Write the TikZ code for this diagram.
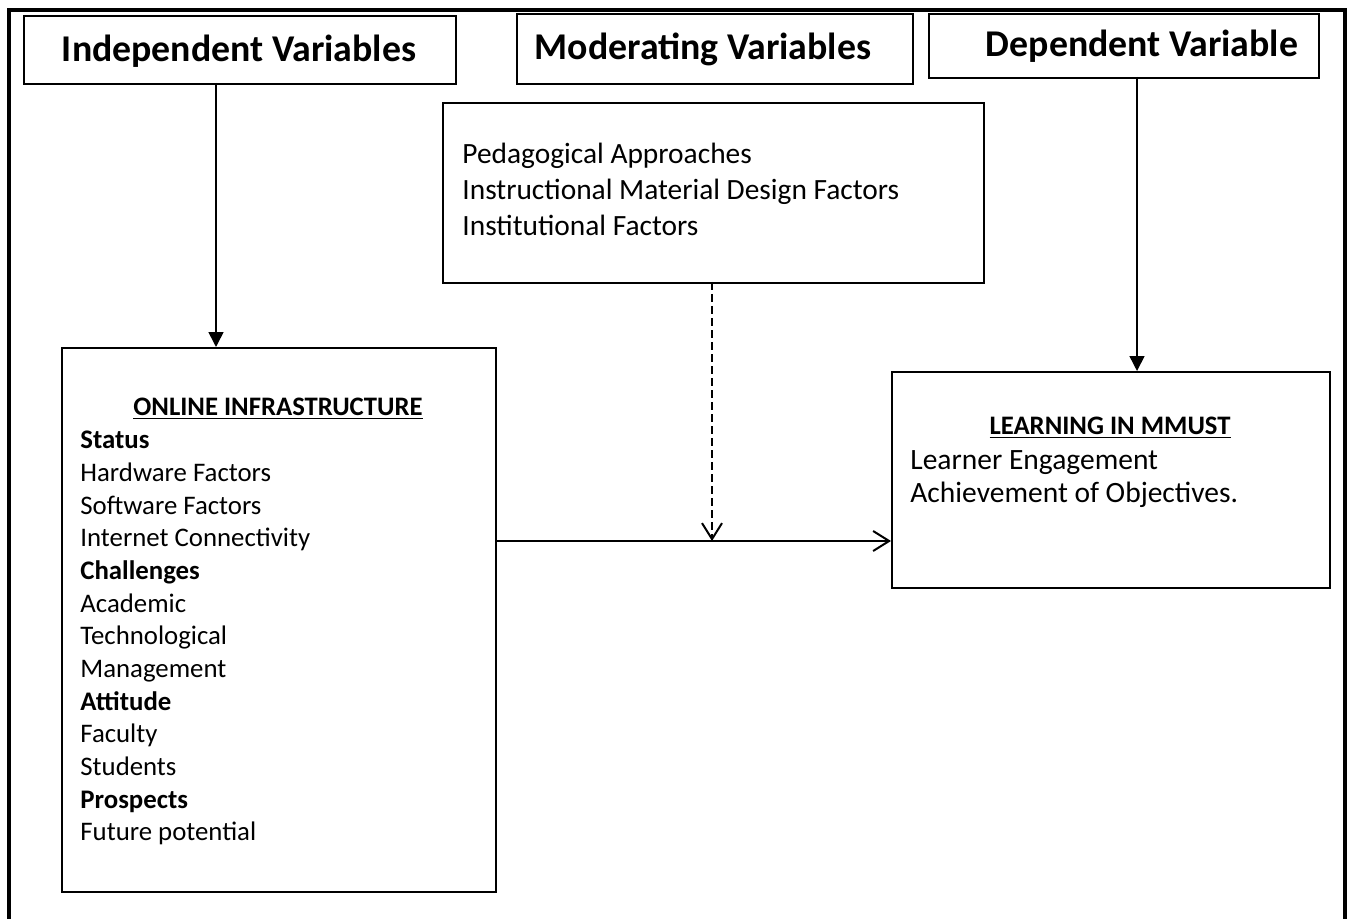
\documentclass[tikz,border=0pt]{standalone}
\usepackage{fontspec}
\setmainfont{Carlito}
\usetikzlibrary{arrows.meta}
\tikzset{
  box/.style={draw, line width=1pt},
  hdr/.style={font=\fontsize{18.9}{22}\selectfont\bfseries, anchor=base},
  body/.style={font=\fontsize{13.4}{16}\selectfont, anchor=base west, inner sep=0pt},
  bodyb/.style={body, font=\fontsize{13.4}{16}\selectfont\bfseries},
  modtxt/.style={font=\fontsize{14.7}{17}\selectfont, anchor=base west, inner sep=0pt},
  rtxt/.style={font=\fontsize{14.75}{17}\selectfont, anchor=base west, inner sep=0pt},
  sub/.style={font=\fontsize{13.35}{16}\selectfont\bfseries, anchor=base, inner sep=0pt},
  tri/.style={-{Triangle[length=7.5pt,width=7.5pt]}, line width=0.8pt},
  barb/.style={-{Straight Barb[length=8pt,width=10pt]}, line width=1pt},
}
\begin{document}
\begin{tikzpicture}[x=0.5pt,y=-0.5pt]
\useasboundingbox (0,0) rectangle (1352,919);
% outer frame
\draw[line width=1.6pt] (9,925) -- (9,10) -- (1345,10) -- (1345,925);
% header boxes
\node[box, minimum width=216pt, minimum height=34pt, anchor=north west, inner sep=0pt] (hind) at (23,15) {};
\node[box, minimum width=198pt, minimum height=35pt, anchor=north west, inner sep=0pt] (hmod) at (516,13) {};
\node[box, minimum width=195pt, minimum height=32pt, anchor=north west, inner sep=0pt] (hdep) at (928,13) {};
\node[hdr] (tind) at (239,62) {Independent Variables};
\node[hdr] (tmod) at (703,60) {Moderating Variables};
\node[hdr] (tdep) at (1142,57) {Dependent Variable};
% moderator box
\node[box, minimum width=270.5pt, minimum height=90pt, anchor=north west, inner sep=0pt] (mod) at (442,102) {};
\node[modtxt] (m1) at (462,164) {Pedagogical Approaches};
\node[modtxt] (m2) at (462,200) {Instructional Material Design Factors};
\node[modtxt] (m3) at (462,236) {Institutional Factors};
% left box
\node[box, minimum width=217pt, minimum height=272pt, anchor=north west, inner sep=0pt] (inf) at (61,347) {};
\node[sub] (infT) at (278,415) {\underline{ONLINE INFRASTRUCTURE}};
\node[bodyb] (l1) at (80,448) {Status};
\node[body] (l2) at (80,481) {Hardware Factors};
\node[body] (l3) at (80,514) {Software Factors};
\node[body] (l4) at (80,546) {Internet Connectivity};
\node[bodyb] (l5) at (80,579) {Challenges};
\node[body] (l6) at (80,612) {Academic};
\node[body] (l7) at (80,644) {Technological};
\node[body] (l8) at (80,677) {Management};
\node[bodyb] (l9) at (80,710) {Attitude};
\node[body] (l10) at (80,742) {Faculty};
\node[body] (l11) at (80,775) {Students};
\node[bodyb] (l12) at (80,808) {Prospects};
\node[body] (l13) at (80,840) {Future potential};
% right box
\node[box, minimum width=219pt, minimum height=108pt, anchor=north west, inner sep=0pt] (lrn) at (891,371) {};
\node[sub] (lrnT) at (1110,434) {\underline{LEARNING IN MMUST}};
\node[rtxt] (r1) at (910,469) {Learner Engagement};
\node[rtxt] (r2) at (910,502) {Achievement of Objectives.};
% connectors
\coordinate (indA) at (216,83);
\coordinate (indB) at (216,347);
\draw[tri] (indA) -- (indB);
\coordinate (depA) at (1137,77);
\coordinate (depB) at (1137,371);
\draw[tri] (depA) -- (depB);
\coordinate (hA) at (495,541);
\coordinate (hB) at (891,541);
\draw[barb] (hA) -- (hB);
\coordinate (dA) at (712,282);
\coordinate (dB) at (712,541);
\draw[barb, dash pattern=on 4pt off 2pt] (dA) -- (dB);
\end{tikzpicture}
\end{document}
